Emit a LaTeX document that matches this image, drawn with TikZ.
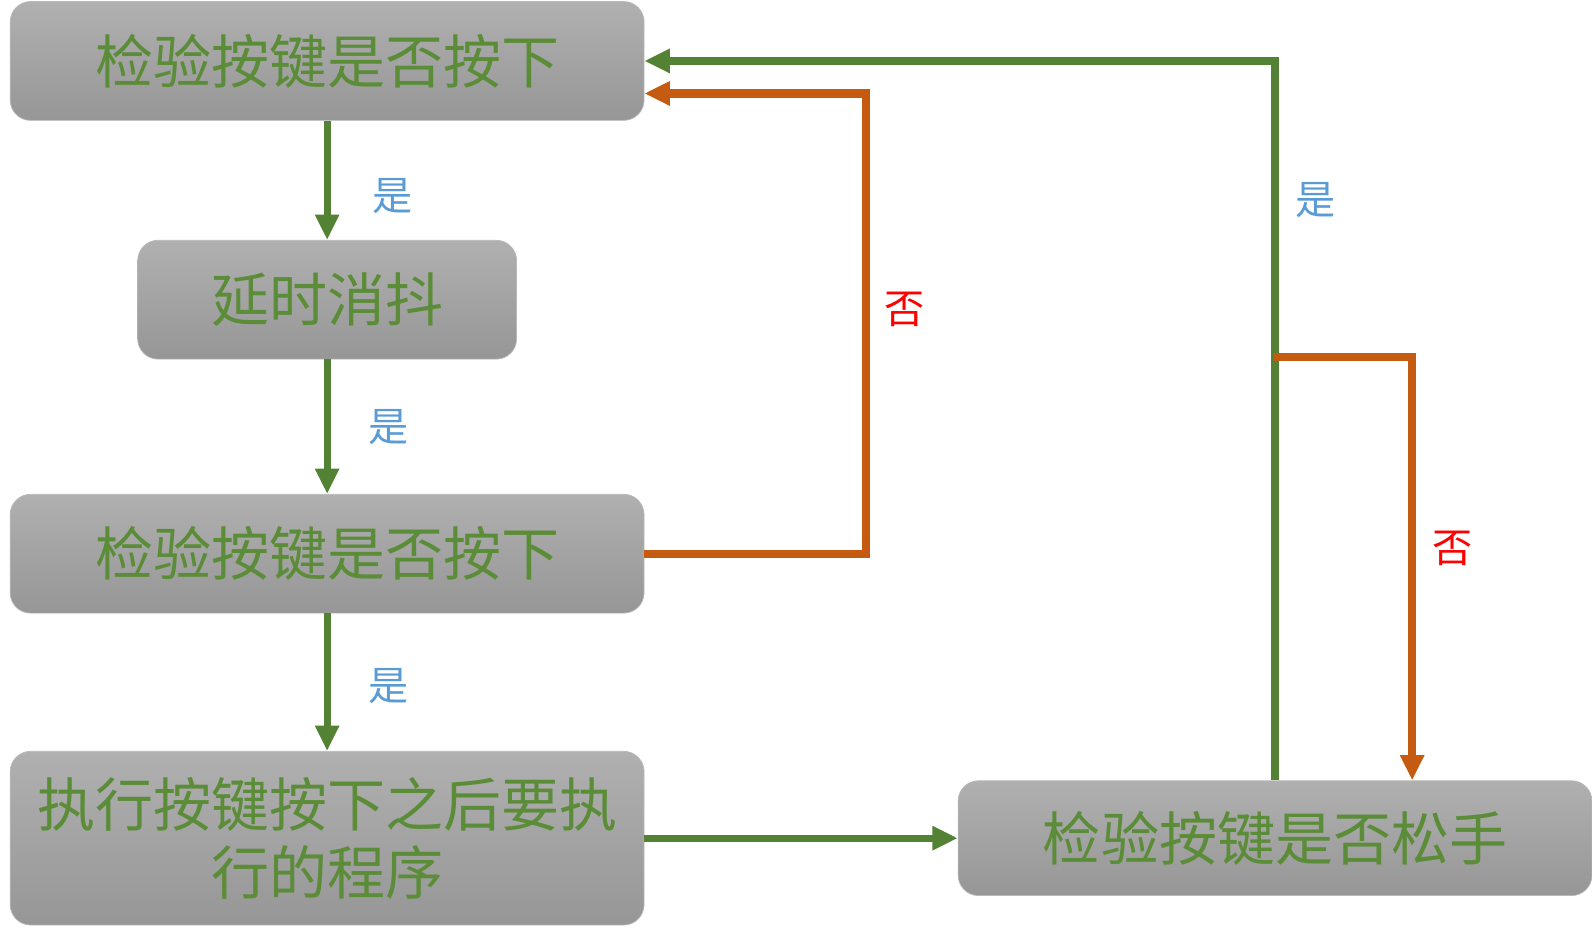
\documentclass[tikz,border=0pt]{standalone}
\usepackage{fontspec}
\newfontfamily\cjk{Noto Sans CJK SC}
\usetikzlibrary{arrows.meta}
\definecolor{flowgreen}{HTML}{548235}
\definecolor{txtgreen}{HTML}{5B8C37}
\definecolor{floworange}{HTML}{C55A11}
\definecolor{yesblue}{HTML}{5B9BD5}
\begin{document}
\begin{tikzpicture}[
    x=0.02cm, y=-0.02cm,
    box/.style={rounded corners=0.4cm, draw=gray!55, top color=gray!62, bottom color=gray!82,
      text=txtgreen, font=\cjk\fontsize{32.5}{38}\selectfont, align=center,
      minimum width=12.48cm, minimum height=2.34cm, inner sep=0pt},
    yesline/.style={draw=flowgreen, line width=0.14cm, -{Triangle[length=0.5cm,width=0.45cm]}},
    noline/.style={draw=floworange, line width=0.16cm, -{Triangle[length=0.5cm,width=0.45cm]}},
    yeslbl/.style={text=yesblue, font=\cjk\fontsize{22.5}{26}\selectfont, inner sep=0pt},
    nolbl/.style={text=red, font=\cjk\fontsize{22.5}{26}\selectfont, inner sep=0pt}
    ]
	\node [box] (chkdown) at (322,60) {检验按键是否按下};
	\node [box, minimum width=7.46cm] (delay) at (322,295) {延时消抖};
	\node [box] (chkagain) at (322,545) {检验按键是否按下};
	\node [box, minimum height=3.42cm] (exec) at (322,825) {执行按键按下之后要执\\行的程序};
	\node [box, minimum height=2.26cm] (chkup) at (1255,825) {检验按键是否松手};
  % yes path
	\draw [yesline] (chkdown) -- (delay);
	\draw [yesline] (delay) -- (chkagain);
	\draw [yesline] (chkagain) -- (exec);
	\draw [yesline] (exec) -- (chkup);
	\draw [yesline] (chkup.north) |- (chkdown.east);
  % no path
	\draw [noline] (chkagain.east) -- ++(218,0) |- ([yshift=-0.64cm]chkdown.east);
	\coordinate (split) at (1254,351);
	\draw [noline] (split) -| ([xshift=2.7cm]chkup.north);
  % labels
	\node [yeslbl] (yes1) at (386,193) {是};
	\node [yeslbl] (yes2) at (382,420) {是};
	\node [yeslbl] (yes3) at (382,675) {是};
	\node [yeslbl] (yes4) at (1295,197) {是};
	\node [nolbl] (no1) at (890,305) {否};
	\node [nolbl] (no2) at (1430,540) {否};
  \pgfresetboundingbox
  \useasboundingbox (0,0) rectangle (1567,926);
\end{tikzpicture}
\end{document}
